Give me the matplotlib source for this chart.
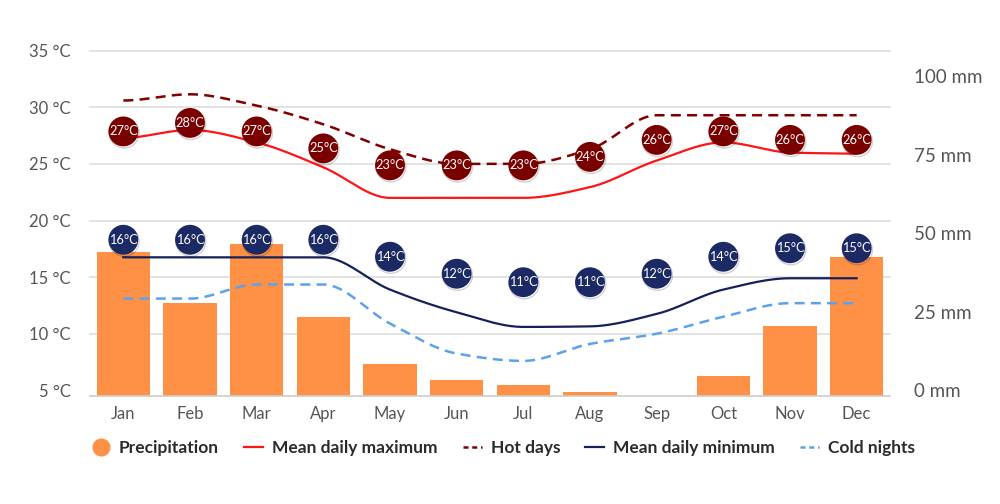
import numpy as np
import matplotlib
matplotlib.use("Agg")
import matplotlib.pyplot as plt
from matplotlib.lines import Line2D
from matplotlib.transforms import blended_transform_factory, ScaledTranslation
import matplotlib.patheffects as pe

plt.rcParams['font.family'] = ['Lato', 'DejaVu Sans']

# ---------------- data ----------------
months = ['Jan', 'Feb', 'Mar', 'Apr', 'May', 'Jun', 'Jul', 'Aug', 'Sep', 'Oct', 'Nov', 'Dec']
precip_mm = [46.0, 29.5, 48.3, 25.3, 10.3, 5.1, 3.5, 1.2, 0.0, 6.5, 22.3, 44.3]
mean_max = [27.3, 28.0, 26.9, 24.7, 22.0, 22.0, 22.0, 22.95, 25.3, 26.9, 26.0, 25.9]
hot_days = [30.6, 31.15, 30.15, 28.5, 26.3, 25.0, 25.0, 26.3, 29.3, 29.3, 29.3, 29.3]
mean_min = [16.75, 16.75, 16.75, 16.75, 13.9, 11.9, 10.6, 10.65, 11.75, 13.9, 14.9, 14.9]
cold_nights = [13.1, 13.1, 14.35, 14.35, 10.9, 8.25, 7.6, 9.1, 10.0, 11.5, 12.7, 12.7]
max_labels = [27, 28, 27, 25, 23, 23, 23, 24, 26, 27, 26, 26]
min_labels = [16, 16, 16, 16, 14, 12, 11, 11, 12, 14, 15, 15]
temp_ticks = [5, 10, 15, 20, 25, 30, 35]
mm_ticks = [0, 25, 50, 75, 100]

# ---------------- helpers ----------------
def pchip(x, y, xs):
    x = np.asarray(x, float); y = np.asarray(y, float)
    h = np.diff(x); delta = np.diff(y) / h
    n = len(x); d = np.zeros(n)
    for k in range(1, n - 1):
        if delta[k - 1] * delta[k] > 0:
            w1 = 2 * h[k] + h[k - 1]; w2 = h[k] + 2 * h[k - 1]
            d[k] = (w1 + w2) / (w1 / delta[k - 1] + w2 / delta[k])
    d[0] = delta[0] if delta[0] * (delta[1] if n > 2 else 1) > 0 else 0
    d[-1] = delta[-1] if delta[-1] * (delta[-2] if n > 2 else 1) > 0 else 0
    out = np.empty_like(xs)
    idx = np.clip(np.searchsorted(x, xs) - 1, 0, n - 2)
    for i, xv in enumerate(xs):
        k = idx[i]; t = (xv - x[k]) / h[k]
        h00 = 2 * t**3 - 3 * t**2 + 1; h10 = t**3 - 2 * t**2 + t
        h01 = -2 * t**3 + 3 * t**2; h11 = t**3 - t**2
        out[i] = h00 * y[k] + h10 * h[k] * d[k] + h01 * y[k + 1] + h11 * h[k] * d[k + 1]
    return out

# ---------------- figure ----------------
fig = plt.figure(figsize=(10, 5.04), dpi=100)
fig.patch.set_facecolor('white')
rect = [0.09, 1 - 396 / 504, 0.80, (396 - 50.7) / 504]
ax_p = fig.add_axes(rect)          # precipitation (right scale), drawn below
ax_t = ax_p.twinx()                # temperatures (left scale), drawn on top
ax_t.yaxis.tick_left()
ax_p.yaxis.tick_right()

x = np.arange(len(months))
ax_p.set_xlim(-0.5, 11.5)
ax_t.set_ylim(4.5, 35)
ax_p.set_ylim(0, 110)

# grid lines at temperature ticks, behind the bars
blend = blended_transform_factory(ax_p.transAxes, ax_t.transData)
for t in temp_ticks[1:]:
    ax_p.plot([0, 1], [t, t], transform=blend, color='#e1e1e1', lw=1.3, zorder=0, clip_on=False)

ax_p.bar(x, precip_mm, width=0.8, color='#FF9147', zorder=2)

xs = np.linspace(0, 11, 400)
ax_t.plot(xs, pchip(x, mean_max, xs), color='#FF1414', lw=1.6, zorder=3, solid_capstyle='butt')
ax_t.plot(xs, pchip(x, hot_days, xs), color='#800000', lw=1.8, dashes=(4, 2.5), zorder=3)
ax_t.plot(xs, pchip(x, mean_min, xs), color='#14215A', lw=1.6, zorder=3)
ax_t.plot(xs, pchip(x, cold_nights, xs), color='#5CA2EA', lw=1.8, dashes=(4, 2.5), zorder=3)

# value badges
shadow = [pe.SimpleLineShadow(offset=(0.6, -1.2), alpha=0.18, shadow_color='black'), pe.Normal()]
max_badge_y = 0.75 * np.array(max_labels) + 7.62
min_badge_y = 0.75 * np.array(min_labels) + 6.3
ax_t.plot(x, max_badge_y, 'o', ms=21.5, color='#7A0000', mec='none', zorder=5, path_effects=shadow)
ax_t.plot(x, min_badge_y, 'o', ms=21.5, color='#1B2A65', mec='none', zorder=5, path_effects=shadow)
for xi, yi, v in zip(x, max_badge_y, max_labels):
    ax_t.text(xi, yi, f"{v}°C", ha='center', va='center', color='white', fontsize=9.2, zorder=6)
for xi, yi, v in zip(x, min_badge_y, min_labels):
    ax_t.text(xi, yi, f"{v}°C", ha='center', va='center', color='white', fontsize=9.2, zorder=6)

# axes styling
for a in (ax_p, ax_t):
    for s in ('top', 'left', 'right', 'bottom'):
        a.spines[s].set_visible(False)
ax_p.spines['bottom'].set_visible(True)
ax_p.spines['bottom'].set_color('#cccccc')
ax_p.spines['bottom'].set_linewidth(1.2)

ax_p.set_xticks(x, months)
ax_p.tick_params(axis='x', length=0, pad=7, labelsize=12, labelcolor='#555555')
ax_t.set_yticks(temp_ticks, [f"{t} °C" for t in temp_ticks])
ax_t.tick_params(axis='y', length=0, pad=14, labelsize=12, labelcolor='#555555')
ax_p.set_yticks(mm_ticks, [f"{m} mm" for m in mm_ticks])
ax_p.tick_params(axis='y', length=0, pad=17, labelsize=13.5, labelcolor='#555555')
off = ScaledTranslation(0, 6 / 100, fig.dpi_scale_trans)
for tk in ax_p.yaxis.get_major_ticks():
    tk.label2.set_transform(tk.label2.get_transform() + off)

# legend
handles = [
    Line2D([], [], marker='o', ls='none', ms=12, color='#FF9147'),
    Line2D([], [], color='#FF1414', lw=1.6),
    Line2D([], [], color='#800000', lw=1.8, dashes=(2, 1.5)),
    Line2D([], [], color='#14215A', lw=1.6),
    Line2D([], [], color='#5CA2EA', lw=1.8, dashes=(2, 1.5)),
]
labels = ['Precipitation', 'Mean daily maximum', 'Hot days', 'Mean daily minimum', 'Cold nights']
leg = fig.legend(handles, labels, loc='center', bbox_to_anchor=(0.503, 1 - 448 / 504), ncol=5,
                 frameon=False, handlelength=1.1, handletextpad=0.5, columnspacing=1.45,
                 prop={'weight': 'bold', 'size': 12.5})
for txt in leg.get_texts():
    txt.set_color('#2b2b2b')

fig.savefig('out.png', dpi=100, facecolor='white')
